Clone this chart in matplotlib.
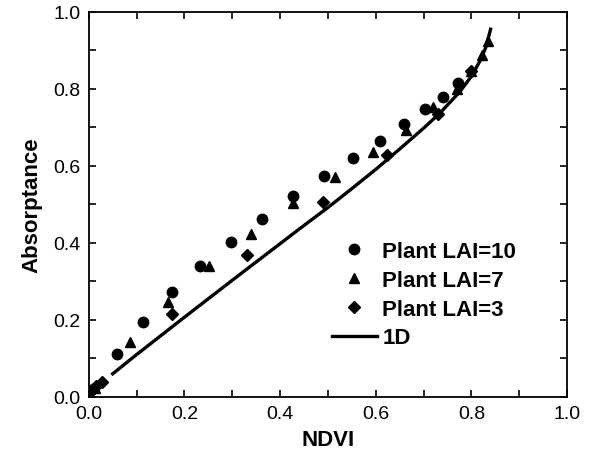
import numpy as np
import matplotlib
matplotlib.use("Agg")
import matplotlib.pyplot as plt
from matplotlib.ticker import MultipleLocator

plt.rcParams['font.family'] = ['Liberation Sans', 'DejaVu Sans']

# Plant LAI=10 (circles)
ndvi_lai10 = [0.005, 0.059, 0.113, 0.173, 0.232, 0.297, 0.362, 0.427, 0.492,
              0.553, 0.609, 0.659, 0.703, 0.740, 0.772]
abs_lai10 = [0.018, 0.112, 0.195, 0.272, 0.340, 0.403, 0.463, 0.522, 0.574,
             0.621, 0.665, 0.709, 0.748, 0.780, 0.816]

# Plant LAI=7 (triangles)
ndvi_lai7 = [0.012, 0.086, 0.166, 0.252, 0.340, 0.427, 0.515, 0.594, 0.663,
             0.720, 0.770, 0.800, 0.822, 0.835]
abs_lai7 = [0.022, 0.143, 0.246, 0.340, 0.423, 0.504, 0.571, 0.637, 0.694,
            0.753, 0.800, 0.847, 0.888, 0.925]

# Plant LAI=3 (diamonds)
ndvi_lai3 = [0.008, 0.016, 0.027, 0.173, 0.330, 0.489, 0.623, 0.730, 0.800]
abs_lai3 = [0.020, 0.028, 0.039, 0.215, 0.368, 0.507, 0.629, 0.735, 0.847]

# 1D model curve
ndvi_1d = [0.05, 0.10, 0.20, 0.30, 0.40, 0.44, 0.50, 0.546, 0.60, 0.651,
           0.70, 0.734, 0.776, 0.80, 0.818, 0.83, 0.84]
abs_1d = [0.060, 0.110, 0.207, 0.303, 0.398, 0.436, 0.492, 0.537, 0.591, 0.645,
          0.698, 0.737, 0.793, 0.833, 0.873, 0.908, 0.955]

fig = plt.figure(figsize=(5.92, 4.6), dpi=100)
ax = fig.add_axes([0.150, 0.135, 0.808, 0.837])

ax.plot(ndvi_lai10, abs_lai10, 'o', color='black', markersize=7.5, label='Plant LAI=10')
ax.plot(ndvi_lai7, abs_lai7, '^', color='black', markersize=7.5, label='Plant LAI=7')
ax.plot(ndvi_lai3, abs_lai3, 'D', color='black', markersize=6, label='Plant LAI=3')
ax.plot(ndvi_1d, abs_1d, '-', color='black', linewidth=2.4, label='1D')

ax.set_xlim(0, 1.0)
ax.set_ylim(0, 1.0)
ax.xaxis.set_major_locator(MultipleLocator(0.2))
ax.xaxis.set_minor_locator(MultipleLocator(0.1))
ax.yaxis.set_major_locator(MultipleLocator(0.2))
ax.yaxis.set_minor_locator(MultipleLocator(0.1))
ax.tick_params(which='both', direction='in', top=True, right=True,
               length=5, width=1.2, labelsize=14, pad=6)
for s in ax.spines.values():
    s.set_linewidth(1.3)

ax.set_xlabel('NDVI', fontsize=16, fontweight='bold', labelpad=5)
ax.set_ylabel('Absorptance', fontsize=16, fontweight='bold', labelpad=8)

leg = ax.legend(loc='upper left', bbox_to_anchor=(0.467, 0.457), frameon=False,
                prop={'weight': 'bold', 'size': 16}, handlelength=2.0,
                handletextpad=0.25, labelspacing=0.35)

fig.savefig('out.png', dpi=100)
